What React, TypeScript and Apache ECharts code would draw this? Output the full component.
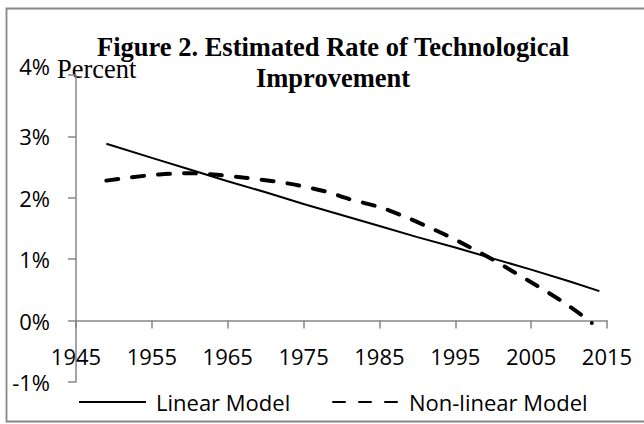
import React, { useEffect, useRef } from "react";
import * as echarts from "echarts";

const titleLines = ["Figure 2. Estimated Rate of Technological", "Improvement"];
const yAxisName = "Percent";
const seriesNames = ["Linear Model", "Non-linear Model"];

const linearYears = [1949, 1955, 1960, 1965, 1970, 1975, 1980, 1985, 1990, 1995, 2000, 2005, 2010, 2014];
const linearValues = [2.88, 2.65, 2.46, 2.27, 2.09, 1.9, 1.72, 1.54, 1.36, 1.19, 1.01, 0.83, 0.64, 0.48];

const nonlinearYears = [1949, 1952, 1956, 1960, 1964, 1967, 1971, 1974, 1978, 1981, 1985, 1988, 1991, 1994, 1997, 2000, 2003, 2006, 2009, 2012, 2013];
const nonlinearValues = [2.28, 2.33, 2.38, 2.4, 2.37, 2.33, 2.27, 2.21, 2.1, 1.98, 1.85, 1.71, 1.55, 1.38, 1.19, 0.99, 0.77, 0.55, 0.32, 0.06, -0.04];

const xMin = 1945;
const xMax = 2015;
const xStep = 10;
const yMin = -1;
const yMax = 4;
const yStep = 1;

const SANS = "'Open Sans', 'Noto Sans', sans-serif";
const SERIF = "'Liberation Serif', 'DejaVu Serif', serif";
const AXIS_GRAY = "#868686";

const GRID_TOP = 75;
const GRID_BOTTOM = 42;
const CHART_H = 424;

export default function App() {
  const ref = useRef<HTMLDivElement>(null);

  useEffect(() => {
    if (!ref.current) return;
    const chart = echarts.init(ref.current, undefined, { renderer: "svg" });
    const lin = linearYears.map((y, i) => [y, linearValues[i]]);
    const non = nonlinearYears.map((y, i) => [y, nonlinearValues[i]]);
    // place the x axis on the 0% line (offset from grid bottom)
    const plotH = CHART_H - GRID_TOP - GRID_BOTTOM;
    const zeroOffset = -((0 - yMin) / (yMax - yMin)) * plotH;
    const legendText = { fontFamily: SANS, fontSize: 22, color: "#000", lineHeight: 24 };
    chart.setOption({
      animation: false,
      backgroundColor: "#ffffff",
      title: {
        text: titleLines.join("\n"),
        left: 328,
        top: 26,
        textAlign: "center",
        textStyle: {
          fontFamily: SERIF,
          fontWeight: "bold",
          fontSize: 26.5,
          lineHeight: 31,
          color: "#000",
        },
      },
      grid: {
        left: 76,
        top: GRID_TOP,
        right: 37,
        bottom: GRID_BOTTOM,
        containLabel: false,
        outerBoundsMode: "none",
      },
      legend: [
        {
          data: [seriesNames[0]],
          left: 73,
          top: 385,
          itemWidth: 67,
          itemHeight: 14,
          itemGap: 0,
          itemStyle: { opacity: 0 },
          textStyle: { ...legendText, padding: [0, 0, 0, 5] },
        },
        {
          data: [seriesNames[1]],
          left: 327,
          top: 385,
          itemWidth: 67,
          itemHeight: 14,
          itemGap: 0,
          itemStyle: { opacity: 0 },
          textStyle: { ...legendText, padding: [0, 0, 0, 4] },
        },
      ],
      xAxis: {
        type: "value",
        min: xMin,
        max: xMax,
        interval: xStep,
        offset: zeroOffset,
        splitLine: { show: false },
        axisLine: { show: true, onZero: false, lineStyle: { color: AXIS_GRAY, width: 1.5 } },
        axisTick: { show: true, inside: false, length: 8, lineStyle: { color: AXIS_GRAY, width: 1.5 } },
        axisLabel: {
          fontFamily: SANS,
          fontSize: 22,
          color: "#000",
          margin: 24,
          formatter: (v: number) => String(v),
        },
      },
      yAxis: {
        type: "value",
        min: yMin,
        max: yMax,
        interval: yStep,
        splitLine: { show: false },
        axisLine: { show: true, lineStyle: { color: AXIS_GRAY, width: 1.5 } },
        axisTick: { show: true, inside: false, length: 8, lineStyle: { color: AXIS_GRAY, width: 1.5 } },
        axisLabel: {
          fontFamily: SANS,
          fontSize: 22,
          color: "#000",
          margin: 26,
          formatter: (v: number) => (v === yMax ? "{t|" + v + "%}" : v + "%"),
          rich: {
            t: { fontFamily: SANS, fontSize: 22, color: "#000", padding: [0, 0, 18, 0] },
          },
        },
      },
      graphic: [
        {
          type: "rect",
          shape: { x: 6.5, y: 8.5, width: 700, height: 413 },
          style: { fill: "none", stroke: AXIS_GRAY, lineWidth: 1.8 },
          silent: true,
        },
        {
          type: "text",
          x: 57,
          y: 69,
          style: {
            text: yAxisName,
            fontFamily: SERIF,
            fontSize: 26.5,
            fill: "#000",
            verticalAlign: "middle",
            align: "left",
          },
        },
      ],
      series: [
        {
          name: seriesNames[0],
          type: "line",
          data: lin,
          showSymbol: false,
          symbol: "none",
          smooth: false,
          lineStyle: { color: "#000", width: 2, type: "solid" },
          itemStyle: { color: "#000" },
        },
        {
          name: seriesNames[1],
          type: "line",
          data: non,
          showSymbol: false,
          symbol: "none",
          smooth: 0.3,
          lineStyle: { color: "#000", width: 4, type: [12, 14], cap: "round" },
          itemStyle: { color: "#000" },
        },
      ],
    });
    return () => chart.dispose();
  }, []);

  return (
    <div
      ref={ref}
      style={{ position: "fixed", left: 0, top: 0, width: 644, height: 424, background: "#fff" }}
    />
  );
}
